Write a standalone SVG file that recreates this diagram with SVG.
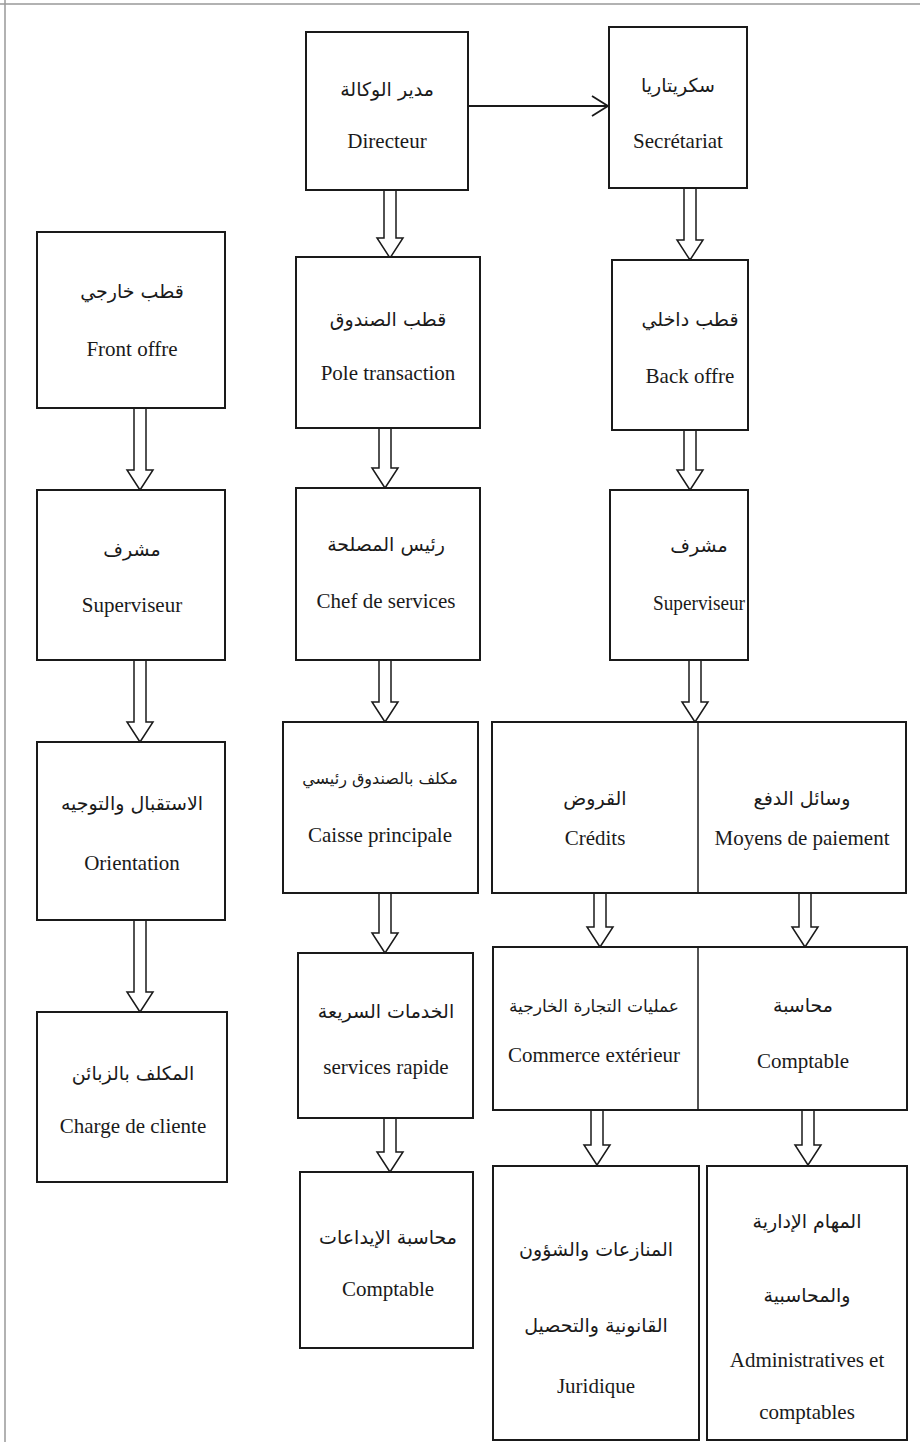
<svg xmlns="http://www.w3.org/2000/svg" width="920" height="1442" viewBox="0 0 920 1442">
<style>
.box{fill:#fff;stroke:#1a1a1a;stroke-width:2}
.div{stroke:#1a1a1a;stroke-width:1.5}
.ar{font-family:"DejaVu Sans","Noto Sans",sans-serif;font-size:19px;fill:#1a1a1a;text-anchor:middle}
.fr{font-family:"Liberation Serif",serif;font-size:21px;fill:#1a1a1a;text-anchor:middle}
.arr{fill:#fff;stroke:#1a1a1a;stroke-width:1.5;stroke-linejoin:miter}
</style>
<rect width="920" height="1442" fill="#fff"/>
<line x1="0" y1="4" x2="920" y2="4" stroke="#999" stroke-width="1.5"/>
<line x1="5" y1="0" x2="5" y2="1442" stroke="#999" stroke-width="1.5"/>

<g id="connectors">
<line x1="468" y1="106" x2="607" y2="106" stroke="#1a1a1a" stroke-width="2"/>
<path d="M592,96 L608,106 L592,116" fill="none" stroke="#1a1a1a" stroke-width="1.8"/>
<path class="arr" d="M384,190 V238 H377 L390,258 L403,238 H396 V190"/>
<path class="arr" d="M684,188 V240 H677 L690,260 L703,240 H696 V188"/>
<path class="arr" d="M134,408 V470 H127 L140,490 L153,470 H146 V408"/>
<path class="arr" d="M379,428 V468 H372 L385,488 L398,468 H391 V428"/>
<path class="arr" d="M684,430 V470 H677 L690,490 L703,470 H696 V430"/>
<path class="arr" d="M134,660 V722 H127 L140,742 L153,722 H146 V660"/>
<path class="arr" d="M379,660 V702 H372 L385,722 L398,702 H391 V660"/>
<path class="arr" d="M689,660 V702 H682 L695,722 L708,702 H701 V660"/>
<path class="arr" d="M134,920 V992 H127 L140,1012 L153,992 H146 V920"/>
<path class="arr" d="M379,893 V933 H372 L385,953 L398,933 H391 V893"/>
<path class="arr" d="M594,893 V927 H587 L600,947 L613,927 H606 V893"/>
<path class="arr" d="M799,893 V927 H792 L805,947 L818,927 H811 V893"/>
<path class="arr" d="M384,1118 V1152 H377 L390,1172 L403,1152 H396 V1118"/>
<path class="arr" d="M591,1110 V1145 H584 L597,1165 L610,1145 H603 V1110"/>
<path class="arr" d="M802,1110 V1145 H795 L808,1165 L821,1145 H814 V1110"/>
</g>

<g id="directeur">
<rect class="box" x="306" y="32" width="162" height="158"/>
<text class="ar" x="387" y="96">مدير الوكالة</text>
<text class="fr" x="387" y="148">Directeur</text>
</g>
<g id="secretariat">
<rect class="box" x="609" y="27" width="138" height="161"/>
<text class="ar" x="678" y="92">سكريتاريا</text>
<text class="fr" x="678" y="148">Secrétariat</text>
</g>
<g id="front-offre">
<rect class="box" x="37" y="232" width="188" height="176"/>
<text class="ar" x="132" y="298">قطب خارجي</text>
<text class="fr" x="132" y="356">Front offre</text>
</g>
<g id="pole-transaction">
<rect class="box" x="296" y="257" width="184" height="171"/>
<text class="ar" x="388" y="326">قطب الصندوق</text>
<text class="fr" x="388" y="380">Pole transaction</text>
</g>
<g id="back-offre">
<rect class="box" x="612" y="260" width="136" height="170"/>
<text class="ar" x="690" y="326">قطب داخلي</text>
<text class="fr" x="690" y="383">Back offre</text>
</g>
<g id="superviseur-left">
<rect class="box" x="37" y="490" width="188" height="170"/>
<text class="ar" x="132" y="556">مشرف</text>
<text class="fr" x="132" y="612">Superviseur</text>
</g>
<g id="chef-services">
<rect class="box" x="296" y="488" width="184" height="172"/>
<text class="ar" x="386" y="551">رئيس المصلحة</text>
<text class="fr" x="386" y="608">Chef de services</text>
</g>
<g id="superviseur-right">
<rect class="box" x="610" y="490" width="138" height="170"/>
<text class="ar" x="699" y="552">مشرف</text>
<text class="fr" x="699" y="610" textLength="92" lengthAdjust="spacingAndGlyphs">Superviseur</text>
</g>
<g id="orientation">
<rect class="box" x="37" y="742" width="188" height="178"/>
<text class="ar" x="132" y="810">الاستقبال والتوجيه</text>
<text class="fr" x="132" y="870">Orientation</text>
</g>
<g id="caisse-principale">
<rect class="box" x="283" y="722" width="195" height="171"/>
<text class="ar" x="380" y="784" style="font-size:16px">مكلف بالصندوق رئيسي</text>
<text class="fr" x="380" y="842">Caisse principale</text>
</g>
<g id="credits-moyens">
<rect class="box" x="492" y="722" width="414" height="171"/>
<line class="div" x1="698" y1="722" x2="698" y2="893"/>
<text class="ar" x="595" y="805">القروض</text>
<text class="fr" x="595" y="845">Crédits</text>
<text class="ar" x="802" y="805">وسائل الدفع</text>
<text class="fr" x="802" y="845">Moyens de paiement</text>
</g>
<g id="services-rapide">
<rect class="box" x="298" y="953" width="175" height="165"/>
<text class="ar" x="386" y="1018">الخدمات السريعة</text>
<text class="fr" x="386" y="1074">services rapide</text>
</g>
<g id="commerce-comptable">
<rect class="box" x="493" y="947" width="414" height="163"/>
<line class="div" x1="698" y1="947" x2="698" y2="1110"/>
<text class="ar" x="594" y="1012" style="font-size:17px">عمليات التجارة الخارجية</text>
<text class="fr" x="594" y="1062">Commerce extérieur</text>
<text class="ar" x="803" y="1012">محاسبة</text>
<text class="fr" x="803" y="1068">Comptable</text>
</g>
<g id="charge-cliente">
<rect class="box" x="37" y="1012" width="190" height="170"/>
<text class="ar" x="133" y="1080">المكلف بالزبائن</text>
<text class="fr" x="133" y="1133">Charge de cliente</text>
</g>
<g id="comptable-depots">
<rect class="box" x="300" y="1172" width="173" height="176"/>
<text class="ar" x="388" y="1244">محاسبة الإيداعات</text>
<text class="fr" x="388" y="1296">Comptable</text>
</g>
<g id="juridique">
<rect class="box" x="493" y="1166" width="206" height="274"/>
<text class="ar" x="596" y="1256">المنازعات والشؤون</text>
<text class="ar" x="596" y="1332">القانونية والتحصيل</text>
<text class="fr" x="596" y="1393">Juridique</text>
</g>
<g id="administratives">
<rect class="box" x="707" y="1166" width="200" height="274"/>
<text class="ar" x="807" y="1228">المهام الإدارية</text>
<text class="ar" x="807" y="1302">والمحاسبية</text>
<text class="fr" x="807" y="1367">Administratives et</text>
<text class="fr" x="807" y="1419">comptables</text>
</g>
</svg>
